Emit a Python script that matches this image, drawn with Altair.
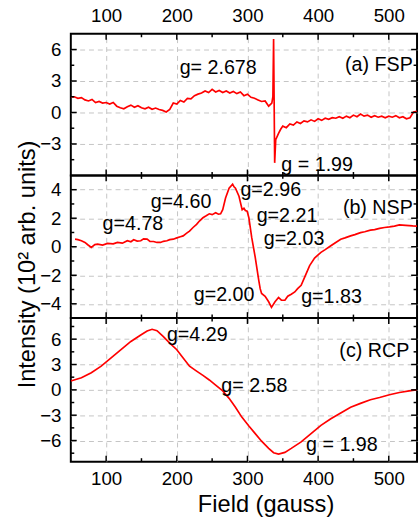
import altair as alt
import pandas as pd

# ---------------- data ----------------
a_field = [50, 55, 60, 65, 70, 75, 80, 85, 90, 95, 100, 105, 110, 115, 120, 125, 130, 135, 140, 145,
           150, 155, 160, 165, 170, 175, 180, 185, 190, 195, 200, 205, 210, 215, 220, 225, 230, 235, 240, 245,
           250, 255, 260, 265, 270, 275, 280, 285, 290, 295, 300, 305, 310, 315, 320, 325, 330, 334.5, 336, 337,
           338.5, 340, 344, 347, 350, 355, 360, 365, 370, 375, 380, 385, 390, 395, 400, 405, 410, 415, 420, 425,
           430, 435, 440, 445, 450, 455, 460, 465, 470, 475, 480, 485, 490, 495, 500, 505, 510, 515, 520, 525,
           530, 535, 540]
a_val = [1.45, 1.5, 1.35, 1.42, 1.2, 1.1, 1.25, 0.95, 1.05, 0.9, 0.95, 0.8, 0.95, 0.6, 0.45, 0.35, 0.55, 0.7, 0.5, 0.65,
         0.45, 0.35, 0.5, 0.3, 0.42, 0.28, 0.2, 0.05, 0.3, 0.9, 0.8, 1.15, 1.0, 1.35, 1.3, 1.6, 1.75, 1.85, 2.05, 1.9,
         2.2, 1.95, 2.1, 1.9, 2.05, 1.85, 2.0, 1.8, 1.95, 1.6, 1.75, 1.45, 1.35, 1.2, 1.05, 1.1, 0.6, 0.9, 1.5, 7.0,
         -4.8, -2.6, -2.0, -1.6, -1.3, -1.45, -1.1, -1.2, -0.9, -1.05, -0.8, -0.9, -0.7, -0.85, -0.6, -0.75, -0.55, -0.65, -0.5, -0.55,
         -0.4, -0.55, -0.35, -0.5, -0.25, -0.4, -0.15, -0.35, -0.25, -0.45, -0.3, -0.45, -0.35, -0.5, -0.35, -0.45, -0.3, -0.5, -0.4, -0.6,
         -0.5, 0.05, 0.1]

b_field = [56, 60, 65, 70, 74, 79, 84, 88, 95, 102, 110, 116, 123, 130, 135, 139, 144, 149, 153, 158,
           162, 167, 172, 177, 181, 186, 190, 195, 200, 205, 209, 214, 218, 223, 228, 232, 237, 241, 246, 250,
           255, 259, 262, 265, 269, 274, 279, 281, 283, 288, 292.5, 295, 297, 299.5, 302, 306, 311, 316, 318, 320,
           325, 330, 334, 339, 344, 348, 353, 357, 362, 367, 371, 376, 381, 388, 395, 404, 410, 418, 425, 432,
           438, 446, 452, 460, 466, 474, 480, 487, 494, 501, 508, 515, 524, 534, 540]
b_val = [0.53, 0.5, 0.42, 0.3, 0.14, -0.05, 0.15, 0.18, 0.12, 0.23, 0.2, 0.3, 0.25, 0.42, 0.35, 0.49, 0.4, 0.42, 0.55, 0.53,
         0.38, 0.37, 0.3, 0.3, 0.38, 0.42, 0.5, 0.53, 0.62, 0.7, 0.76, 0.95, 1.1, 1.35, 1.57, 1.8, 2.03, 2.15, 2.31, 2.25,
         2.38, 2.28, 2.31, 2.6, 3.42, 4.1, 4.39, 4.2, 4.1, 3.54, 2.6, 2.7, 2.54, 2.5, 2.03, 0.65, -0.74, -2.36, -2.94, -3.28,
         -3.47, -3.86, -4.25, -3.86, -3.56, -3.75, -3.75, -3.47, -3.33, -3.17, -2.94, -2.7, -2.13, -1.32, -0.79, -0.39, -0.2, 0.07, 0.3, 0.53,
         0.62, 0.76, 0.85, 0.99, 1.05, 1.16, 1.2, 1.29, 1.35, 1.39, 1.45, 1.53, 1.5, 1.46, 1.45]

c_field = [50, 65, 79, 93, 107, 121, 135, 149, 158, 165, 172, 181, 190, 200, 209, 218, 228, 237, 246, 255,
           265, 274, 283, 292, 302, 311, 320, 330, 337, 344, 353, 362, 376, 390, 404, 418, 432, 446, 460, 474,
           487, 501, 515, 529, 536, 540]
c_val = [1.05, 1.44, 2.03, 2.8, 3.78, 4.75, 5.73, 6.5, 6.97, 7.17, 7.01, 6.31, 5.53, 4.75, 3.78, 2.8, 2.22, 1.71, 1.17, 0.55,
         -0.12, -1.01, -2.06, -3.23, -4.29, -5.18, -6.08, -6.93, -7.44, -7.6, -7.4, -6.93, -6.16, -5.18, -4.21, -3.43, -2.73, -2.06, -1.6, -1.17,
         -0.9, -0.58, -0.31, -0.12, -0.04, 0.0]

# annotations (left aligned): text, field, value
a_notes = ["g= 2.678", "g = 1.99"]
a_notes_f = [204, 348]
a_notes_v = [4.2, -4.97]
b_notes = ["g=4.78", "g=4.60", "g=2.96", "g=2.21", "g=2.03", "g=2.00", "g=1.83"]
b_notes_f = [95, 163, 290, 313, 323, 224, 376]
b_notes_v = [1.57, 3.12, 3.98, 2.14, 0.53, -3.38, -3.5]
c_notes = ["g=4.29", "g= 2.58", "g = 1.98"]
c_notes_f = [186, 263, 383]
c_notes_v = [6.5, 0.47, -6.6]
# panel labels (right aligned)
panel_labels = ["(a) FSP", "(b) NSP", "(c) RCP"]
panel_label_f = [534, 534, 529]
panel_label_v = [4.5, 2.71, 4.56]

x_major = [100, 200, 300, 400, 500]
x_minor = [150, 250, 350, 450]
a_ymaj = [-3, 0, 3, 6]
a_ymin = [-4.5, -1.5, 1.5, 4.5]
b_ymaj = [-4, -2, 0, 2, 4]
b_ymin = [-3, -1, 1, 3]
c_ymaj = [-6, -3, 0, 3, 6]
c_ymin = [-7.5, -4.5, -1.5, 1.5, 4.5, 7.5]

# ---------------- styling ----------------
W = 352
FONT = "Liberation Sans"
RED = "#ff0000"
GRID = "#c4c4c4"


def panel(field, val, ydom, ymaj, ymin, H, nt, nf, nv, pl, plf, plv, xaxis, yaxis):
    xs = alt.Scale(domain=[50, 540], nice=False, zero=False)
    ys = alt.Scale(domain=ydom, nice=False, zero=False)
    X = lambda: alt.X("f:Q", scale=xs, axis=xaxis)
    Y = lambda: alt.Y("v:Q", scale=ys, axis=yaxis)

    line = alt.Chart(pd.DataFrame({"f": field, "v": val})).mark_line(
        color=RED, strokeWidth=1.7, clip=True).encode(x=X(), y=Y())

    layers = [line]
    for vals, ln in [(x_major, 6), (x_minor, 3.5)]:
        d = pd.DataFrame({"f": vals})
        layers.append(alt.Chart(d).mark_rule(color="black", strokeWidth=1.5).encode(
            x=X(), y=alt.value(0), y2=alt.value(ln)))
        layers.append(alt.Chart(d).mark_rule(color="black", strokeWidth=1.5).encode(
            x=X(), y=alt.value(H), y2=alt.value(H - ln)))
    for vals, ln in [(ymaj, 6), (ymin, 3.5)]:
        d = pd.DataFrame({"v": vals})
        layers.append(alt.Chart(d).mark_rule(color="black", strokeWidth=1.5).encode(
            y=Y(), x=alt.value(0), x2=alt.value(ln)))
        layers.append(alt.Chart(d).mark_rule(color="black", strokeWidth=1.5).encode(
            y=Y(), x=alt.value(W), x2=alt.value(W - ln)))

    notes = pd.DataFrame({"f": nf, "v": nv, "t": nt})
    layers.append(alt.Chart(notes).mark_text(
        align="left", baseline="middle", font=FONT, fontSize=20, color="black").encode(
        x=X(), y=Y(), text="t:N"))
    pdf = pd.DataFrame({"f": [plf], "v": [plv], "t": [pl]})
    layers.append(alt.Chart(pdf).mark_text(
        align="right", baseline="middle", font=FONT, fontSize=20, color="black").encode(
        x=X(), y=Y(), text="t:N"))
    return alt.layer(*layers).properties(width=W, height=H)


def yax(vals, title=None, **kw):
    return alt.Axis(values=vals, grid=True, gridDash=[5, 4], gridColor=GRID, gridWidth=1,
                    ticks=False, domain=False, labelFont=FONT, labelFontSize=19,
                    labelColor="black", labelPadding=10, title=title, **kw)


common_x = dict(values=x_major, grid=True, gridDash=[5, 4], gridColor=GRID, gridWidth=1,
                ticks=False, domain=False, labelFont=FONT, labelFontSize=19, labelColor="black")

xa_top = alt.Axis(orient="top", labelPadding=8, title=None, **common_x)
xa_mid = alt.Axis(orient="bottom", labels=False, title=None, **common_x)
xa_bot = alt.Axis(orient="bottom", labelPadding=8, title="Field (gauss)",
                  titleFont=FONT, titleFontSize=24, titleFontWeight="normal", titleColor="black",
                  titleX=198, titleY=51, titleBaseline="alphabetic", **common_x)

ya = yax(a_ymaj)
yb = yax(b_ymaj, title="Intensity (10² arb. units)", titleFont=FONT, titleFontSize=24,
         titleFontWeight="normal", titleColor="black", titleAngle=270, titleX=-37, titleY=90,
         titleAlign="center", titleBaseline="alphabetic")
yc = yax(c_ymaj)

pa = panel(a_field, a_val, [-6, 7.5], a_ymaj, a_ymin, 144, a_notes, a_notes_f, a_notes_v,
           panel_labels[0], panel_label_f[0], panel_label_v[0], xa_top, ya)
pb = panel(b_field, b_val, [-5, 5], b_ymaj, b_ymin, 145, b_notes, b_notes_f, b_notes_v,
           panel_labels[1], panel_label_f[1], panel_label_v[1], xa_mid, yb)
pc = panel(c_field, c_val, [-8.5, 8.5], c_ymaj, c_ymin, 146, c_notes, c_notes_f, c_notes_v,
           panel_labels[2], panel_label_f[2], panel_label_v[2], xa_bot, yc)

chart = alt.vconcat(pa, pb, pc, spacing=0, bounds="flush").configure_view(
    stroke="black", strokeWidth=2).properties(
    padding={"left": 14, "top": 2, "right": 0, "bottom": 0}, background="white")

chart.save("out.html", embed_options={"renderer": "svg", "actions": False})
